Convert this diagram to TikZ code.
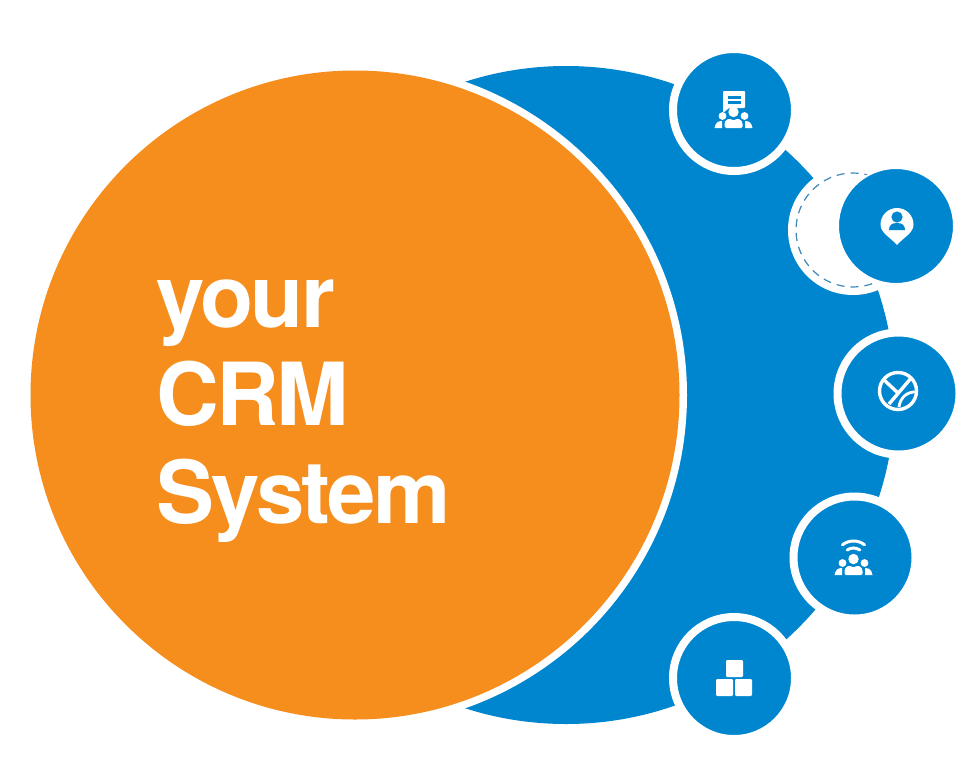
\documentclass[tikz,border=0pt]{standalone}
\usepackage{fontspec}
\setmainfont{TeX Gyre Heros}
\newfontfamily\titlefont[LetterSpace=-3,BoldFont={* Bold}]{TeX Gyre Heros}
\definecolor{crmblue}{HTML}{0085CF}
\definecolor{crmorange}{HTML}{F68E1E}
\definecolor{dashblue}{HTML}{3D88B8}
\tikzset{
  bigdisc/.style={circle,inner sep=0pt,minimum size=#1},
  badge/.style={circle,inner sep=0pt,minimum size=122pt,fill=crmblue,draw=white,line width=8pt,outer sep=0pt},
  badgeplain/.style={circle,inner sep=0pt,minimum size=116pt,fill=crmblue,draw=white,line width=2pt},
  iconline/.style={draw=white,line width=3.4pt,fill=none},
  people/.pic={
    \fill[white] (0,0) circle (5.2);
    \fill[white] (-11,4) circle (3.9);
    \fill[white] (11,4) circle (3.9);
    \fill[white,rounded corners=1.5pt] (-9,16) -- (-9,10.5) .. controls (-7,7) and (-4,6.5) .. (-2,8) -- (2,8) .. controls (4,6.5) and (7,7) .. (9,10.5) -- (9,16) -- cycle;
    \fill[white] (-19,16) .. controls (-18,11) and (-16,9) .. (-11.5,9) -- (-11.5,16) -- cycle;
    \fill[white] (19,16) .. controls (18,11) and (16,9) .. (11.5,9) -- (11.5,16) -- cycle;
  }
}
\begin{document}
\begin{tikzpicture}[x=1pt,y=-1pt]
\useasboundingbox (0,0) rectangle (980,764);
\node[bigdisc=658pt,fill=crmblue] (back) at (566,395) {};
\node[bigdisc=664pt,fill=white] (halo) at (355,395) {};
\node[bigdisc=649pt,fill=crmorange] (core) at (355,395) {};
\node[anchor=north west,inner sep=0pt,align=left,text=white,font=\titlefont\bfseries\fontsize{87}{98}\selectfont] (title) at (156,280) {your\\CRM\\System};
% ghost circle behind the pin badge
\node[bigdisc=130pt,fill=white] (ghost) at (853,230) {};
\node[bigdisc=114pt,draw=dashblue,line width=1.2pt,dash pattern=on 8pt off 6pt] (ghostline) at (853,230) {};
% badges
\node[badge] (b1) at (734,110) {};
\node[badgeplain] (b2) at (896,226) {};
\node[badge] (b3) at (898.5,393.5) {};
\node[badge] (b4) at (854.5,557.5) {};
\node[badge] (b5) at (734,678) {};
% icon 1: people with speech bubble
\fill[white,rounded corners=1pt] (723,91) -- (745,91) -- (745,108) -- (729,108) -- (723,113) -- cycle;
\fill[crmblue] (728,95.5) rectangle (741,98.5);
\fill[crmblue] (728,101) rectangle (741,104);
\pic at (733.5,112) {people};
% icon 2: pin with person
\fill[white] (897,245) .. controls (890,237) and (880.5,233) .. (880.5,224.5) arc (180:360:16.5) .. controls (913.5,233) and (904,237) .. (897,245) -- cycle;
\fill[crmblue] (897,217) circle (5.6);
\fill[crmblue] (889,230) .. controls (889,225) and (892,223) .. (897,223) .. controls (902,223) and (905,225) .. (905,230) -- cycle;
% icon 3: ball
\draw[iconline] (898,391) circle (18.5);
\draw[iconline] (883,379) -- (898,393);
\draw[iconline] (912,377) -- (889,404);
\draw[iconline,line width=2.8pt] (899,407) .. controls (900,398) and (907,391) .. (917,392);
% icon 4: people with signal
\pic at (853.5,559) {people};
\draw[iconline,line width=3pt,line cap=round] (853.5,559) ++(235:11) arc (235:305:11);
\draw[iconline,line width=3pt,line cap=round] (853.5,559) ++(232:18) arc (232:308:18);
% icon 5: blocks
\fill[white,rounded corners=1.2pt] (726,660) rectangle (743,677);
\fill[white,rounded corners=1.2pt] (716,679) rectangle (733,696);
\fill[white,rounded corners=1.2pt] (735,679) rectangle (752,696);
\end{tikzpicture}
\end{document}
